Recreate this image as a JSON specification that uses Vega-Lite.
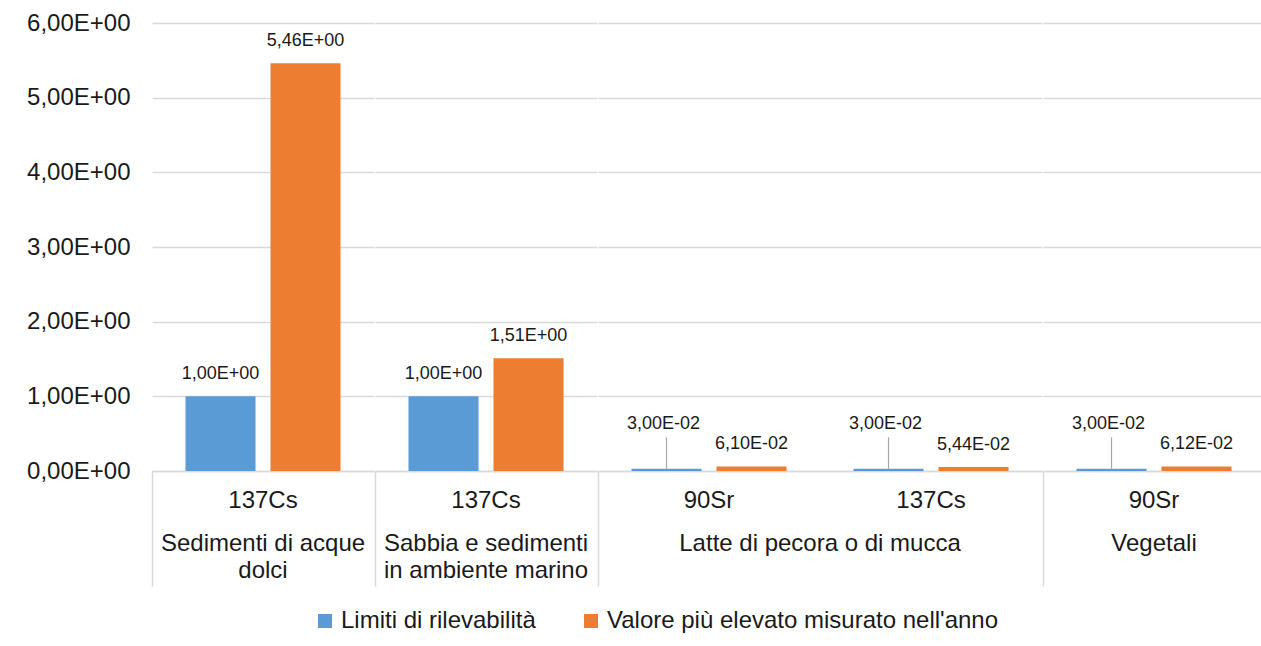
{
  "$schema": "https://vega.github.io/schema/vega-lite/v6.json",
  "padding": {"left": 26, "top": 11, "right": 0, "bottom": 0},
  "background": "white",
  "data": {"values": [
    {"group": "Sedimenti di acque dolci", "isotope": "137Cs", "series": "Limiti di rilevabilità", "value": 1.0, "label": "1,00E+00"},
    {"group": "Sedimenti di acque dolci", "isotope": "137Cs", "series": "Valore più elevato misurato nell'anno", "value": 5.46, "label": "5,46E+00"},
    {"group": "Sabbia e sedimenti in ambiente marino", "isotope": "137Cs", "series": "Limiti di rilevabilità", "value": 1.0, "label": "1,00E+00"},
    {"group": "Sabbia e sedimenti in ambiente marino", "isotope": "137Cs", "series": "Valore più elevato misurato nell'anno", "value": 1.51, "label": "1,51E+00"},
    {"group": "Latte di pecora o di mucca", "isotope": "90Sr", "series": "Limiti di rilevabilità", "value": 0.03, "label": "3,00E-02"},
    {"group": "Latte di pecora o di mucca", "isotope": "90Sr", "series": "Valore più elevato misurato nell'anno", "value": 0.061, "label": "6,10E-02"},
    {"group": "Latte di pecora o di mucca", "isotope": "137Cs", "series": "Limiti di rilevabilità", "value": 0.03, "label": "3,00E-02"},
    {"group": "Latte di pecora o di mucca", "isotope": "137Cs", "series": "Valore più elevato misurato nell'anno", "value": 0.0544, "label": "5,44E-02"},
    {"group": "Vegetali", "isotope": "90Sr", "series": "Limiti di rilevabilità", "value": 0.03, "label": "3,00E-02"},
    {"group": "Vegetali", "isotope": "90Sr", "series": "Valore più elevato misurato nell'anno", "value": 0.0612, "label": "6,12E-02"}
  ]},
  "facet": {
    "column": {
      "field": "group",
      "type": "nominal",
      "sort": ["Sedimenti di acque dolci", "Sabbia e sedimenti in ambiente marino", "Latte di pecora o di mucca", "Vegetali"],
      "title": null,
      "header": {
        "labelOrient": "bottom",
        "labelPadding": 61,
        "labelFont": "Liberation Sans",
        "labelFontSize": 24,
        "labelColor": "#1a1a1a",
        "labelLineHeight": 27,
        "labelBaseline": "top",
        "labelLimit": 0,
        "labelExpr": "datum.value === 'Sedimenti di acque dolci' ? ['Sedimenti di acque', 'dolci'] : datum.value === 'Sabbia e sedimenti in ambiente marino' ? ['Sabbia e sedimenti', 'in ambiente marino'] : datum.value"
      }
    }
  },
  "spacing": 0,
  "bounds": "flush",
  "resolve": {"scale": {"x": "independent"}},
  "spec": {
    "width": {"step": 85},
    "height": 448,
    "encoding": {
      "x": {
        "field": "isotope",
        "type": "nominal",
        "sort": ["90Sr", "137Cs"],
        "scale": {"paddingInner": 0, "paddingOuter": 0},
        "axis": {
          "title": null,
          "labelAngle": 0,
          "labelFont": "Liberation Sans",
          "labelFontSize": 24,
          "labelColor": "#1a1a1a",
          "labelPadding": -98,
          "grid": false,
          "bandPosition": 0,
          "tickSize": 115,
          "tickWidth": 1.5,
          "tickColor": {"condition": {"test": "datum.index === 1", "value": "transparent"}, "value": "#d9d9d9"},
          "domainColor": "#d9d9d9",
          "domainWidth": 1.5
        }
      },
      "xOffset": {
        "field": "series",
        "type": "nominal",
        "scale": {"paddingInner": 0.176, "paddingOuter": 0.394}
      },
      "y": {
        "field": "value",
        "type": "quantitative",
        "scale": {"domain": [0, 6], "nice": false},
        "axis": {
          "title": null,
          "values": [0, 1, 2, 3, 4, 5, 6],
          "ticks": false,
          "domain": false,
          "labelPadding": 22,
          "labelFont": "Liberation Sans",
          "labelFontSize": 24,
          "labelColor": "#1a1a1a",
          "gridColor": "#d9d9d9",
          "gridWidth": 1.5,
          "labelExpr": "replace(format(datum.value, '.2f'), '.', ',') + 'E+00'"
        }
      }
    },
    "layer": [
      {
        "mark": {"type": "bar"},
        "encoding": {
          "color": {
            "field": "series",
            "type": "nominal",
            "scale": {"domain": ["Limiti di rilevabilità", "Valore più elevato misurato nell'anno"], "range": ["#5B9BD5", "#ED7D31"]},
            "legend": {
              "title": null,
              "orient": "none",
              "legendX": 161,
              "legendY": 586,
              "direction": "horizontal",
              "symbolType": "square",
              "symbolSize": 196,
              "symbolStrokeWidth": 0,
              "labelFont": "Liberation Sans",
              "labelFontSize": 24,
              "labelColor": "#1a1a1a",
              "labelLimit": 600,
              "labelOffset": 4,
              "columnPadding": 43
            }
          }
        }
      },
      {
        "transform": [{"filter": "datum.series === 'Limiti di rilevabilità' && datum.value < 0.1"}],
        "mark": {"type": "rule", "color": "#a6a6a6", "strokeWidth": 1.2},
        "encoding": {"y2": {"datum": 0.45}}
      },
      {
        "transform": [{"filter": "!(datum.series === 'Limiti di rilevabilità' && datum.value < 0.1)"}],
        "mark": {"type": "text", "baseline": "alphabetic", "dy": -17, "font": "Liberation Sans", "fontSize": 18, "color": "#1a1a1a"},
        "encoding": {"text": {"field": "label"}}
      },
      {
        "transform": [{"filter": "datum.series === 'Limiti di rilevabilità' && datum.value < 0.1"}],
        "mark": {"type": "text", "baseline": "alphabetic", "dy": -40, "dx": -3, "font": "Liberation Sans", "fontSize": 18, "color": "#1a1a1a"},
        "encoding": {"text": {"field": "label"}}
      }
    ]
  },
  "config": {
    "view": {"stroke": null}
  }
}
